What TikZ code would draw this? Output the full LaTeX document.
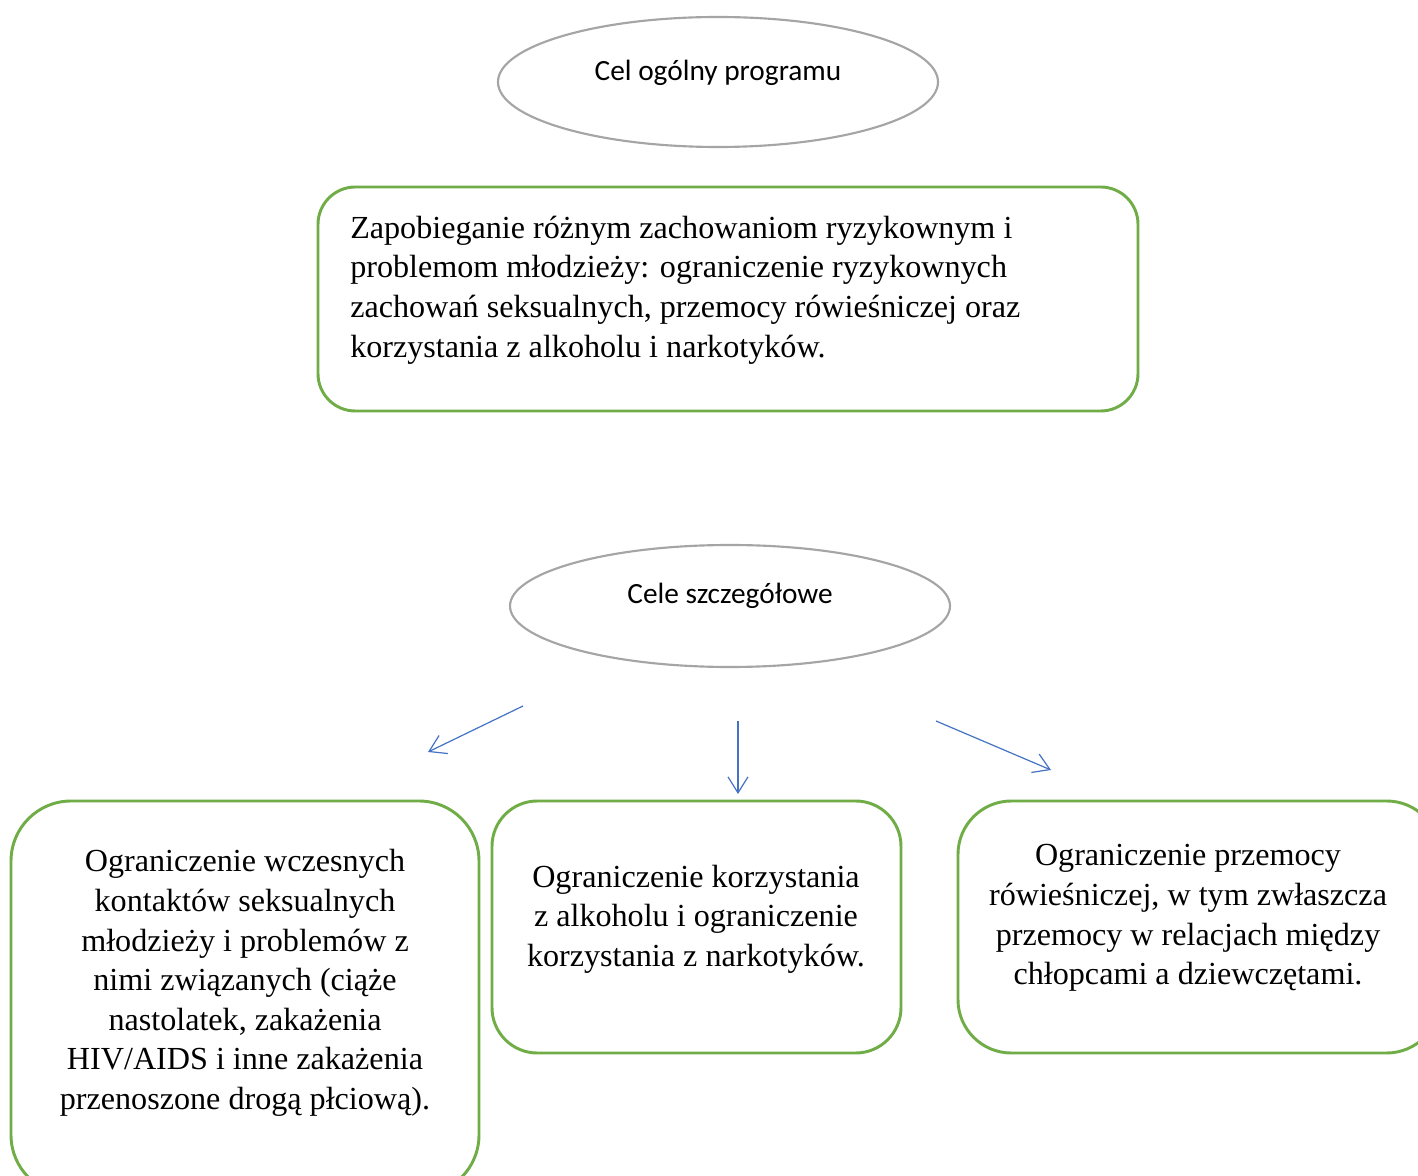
\documentclass[tikz,border=0pt]{standalone}
\usepackage{fontspec}
\setmainfont{Liberation Serif}
\newfontfamily\calfont{Carlito}
\usetikzlibrary{arrows.meta,shapes.geometric}
\definecolor{boxgreen}{HTML}{70AD47}
\definecolor{ellgray}{HTML}{A5A5A5}
\definecolor{arrblue}{HTML}{4472C4}
\begin{document}
\begin{tikzpicture}[x=0.75pt,y=-0.75pt,
  ell/.style={draw=ellgray,line width=1.6pt,ellipse,inner sep=0pt},
  gbox/.style={draw=boxgreen,line width=2.2pt},
  etext/.style={font=\calfont\fontsize{22}{26}\selectfont,inner sep=0pt},
  btext/.style={font=\fontsize{24.1}{29.7}\selectfont,inner sep=0pt,align=center},
  arr/.style={draw=arrblue,line width=0.9pt,-{Straight Barb[length=12pt,width=15pt,line width=0.9pt]}}
  ]
\useasboundingbox (0,0) rectangle (1418,1176);
\clip (0,0) rectangle (1418,1176);
\fill[white] (0,0) rectangle (1418,1176);
% ellipse 1
\node[ell,minimum width=440*0.75pt,minimum height=130*0.75pt] (e1) at (718,82) {};
\node[etext] (e1t) at (718,73) {Cel ogólny programu};
% top box
\draw[gbox,rounded corners=28pt] (318,187) rectangle (1138,411);
\node[btext,align=left,anchor=west] (topt) at (350,290) {Zapobieganie różnym zachowaniom ryzykownym i\\problemom młodzieży: ograniczenie ryzykownych\\zachowań seksualnych, przemocy rówieśniczej oraz\\korzystania z alkoholu i narkotyków.};
% ellipse 2
\node[ell,minimum width=440*0.75pt,minimum height=122*0.75pt] (e2) at (730,606) {};
\node[etext] (e2t) at (730,596) {Cele szczegółowe};
% arrows
\coordinate (a1s) at (523,706); \coordinate (a1e) at (428,752);
\coordinate (a2s) at (738,721); \coordinate (a2e) at (738,794);
\coordinate (a3s) at (936,721); \coordinate (a3e) at (1051,770);
\draw[arr] (a1s) -- (a1e);
\draw[arr] (a2s) -- (a2e);
\draw[arr] (a3s) -- (a3e);
% bottom boxes
\draw[gbox,rounded corners=45pt] (11,801) rectangle (479,1195);
\draw[gbox,rounded corners=34pt] (492,801) rectangle (901,1053);
\draw[gbox,rounded corners=40pt] (958,801) rectangle (1440,1053);
\node[btext] (lt) at (245,983) {Ograniczenie wczesnych\\kontaktów seksualnych\\młodzieży i problemów z\\nimi związanych (ciąże\\nastolatek, zakażenia\\HIV/AIDS i inne zakażenia\\przenoszone drogą płciową).};
\node[btext] (mt) at (696,919) {Ograniczenie korzystania\\z alkoholu i ograniczenie\\korzystania z narkotyków.};
\node[btext] (rt) at (1188,918) {Ograniczenie przemocy\\rówieśniczej, w tym zwłaszcza\\przemocy w relacjach między\\chłopcami a dziewczętami.};
\end{tikzpicture}
\end{document}
